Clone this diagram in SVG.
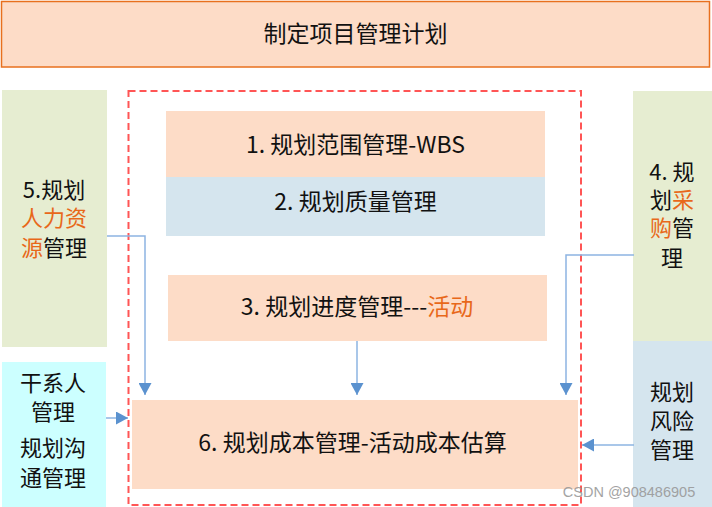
<svg xmlns="http://www.w3.org/2000/svg" width="712" height="507" viewBox="0 0 712 507">
<style>
text{font-family:"Noto Sans CJK SC","Noto Sans",sans-serif;fill:#111;text-anchor:middle}
.t{font-size:23px}
.s{font-size:22px}
.o{fill:#E8681A}
.peach{fill:#FDDCC7}
.blue{fill:#D5E5EE}
.green{fill:#E6EDD1}
.cyan{fill:#CCFFFF}
.con{fill:none;stroke:#8DB4E2;stroke-width:1.5}
</style>
<defs>
<marker id="ah" viewBox="0 0 12 13" refX="12" refY="6.5" markerWidth="12" markerHeight="13" markerUnits="userSpaceOnUse" orient="auto">
<path d="M0,0 L12,6.5 L0,13 z" fill="#5B92CF"/>
</marker>
</defs>
<rect width="712" height="507" fill="#fff"/>
<g id="title">
<rect x="1.5" y="1.5" width="708" height="65.5" fill="#FDDCC7" stroke="#E8701E" stroke-width="1.5"/>
<text class="t" x="355.5" y="42">制定项目管理计划</text>
</g>
<g id="frame">
<rect x="128.5" y="91" width="452.5" height="414" fill="none" stroke="#FF5555" stroke-width="2" stroke-dasharray="7 4"/>
</g>
<g id="n1">
<rect class="peach" x="166" y="111" width="379" height="66"/>
<text class="t" x="355.5" y="153">1. 规划范围管理-WBS</text>
</g>
<g id="n2">
<rect class="blue" x="166" y="177" width="379" height="59"/>
<text class="t" x="355.5" y="210">2. 规划质量管理</text>
</g>
<g id="n3">
<rect class="peach" x="168" y="275" width="379" height="66"/>
<text class="t" x="357" y="315">3. 规划进度管理---<tspan class="o">活动</tspan></text>
</g>
<g id="n6">
<rect class="peach" x="132" y="400" width="446" height="89"/>
<text class="t" x="352.5" y="451">6. 规划成本管理-活动成本估算</text>
</g>
<g id="n5">
<rect class="green" x="2" y="90" width="105" height="257"/>
<text class="s" x="54" y="198">5.规划</text>
<text class="s o" x="54" y="226">人力资</text>
<text class="s" x="54" y="256"><tspan class="o">源</tspan>管理</text>
</g>
<g id="stakeholder">
<rect class="cyan" x="2" y="362" width="104" height="145"/>
<text class="s" x="53" y="391">干系人</text>
<text class="s" x="53" y="420">管理</text>
<text class="s" x="53" y="456">规划沟</text>
<text class="s" x="53" y="486">通管理</text>
</g>
<g id="n4">
<rect class="green" x="633" y="91" width="79" height="250"/>
<text class="s" x="672" y="180">4. 规</text>
<text class="s" x="672" y="208">划<tspan class="o">采</tspan></text>
<text class="s" x="672" y="236"><tspan class="o">购</tspan>管</text>
<text class="s" x="672" y="266">理</text>
</g>
<g id="risk">
<rect class="blue" x="633" y="341" width="79" height="166"/>
<text class="s" x="672" y="400">规划</text>
<text class="s" x="672" y="429">风险</text>
<text class="s" x="672" y="458">管理</text>
</g>
<g id="connectors">
<polyline class="con" points="107,236 145,236 145,395" marker-end="url(#ah)"/>
<line class="con" x1="357" y1="341" x2="357" y2="395" marker-end="url(#ah)"/>
<polyline class="con" points="634,255 566,255 566,395" marker-end="url(#ah)"/>
<line class="con" x1="106" y1="418" x2="128" y2="418" marker-end="url(#ah)"/>
<line class="con" x1="634" y1="445" x2="582" y2="445" marker-end="url(#ah)"/>
</g>
<text x="629" y="497" style="font-family:'Liberation Sans',Arial,sans-serif;font-size:14.5px;fill:#9a9a9a;opacity:0.9">CSDN @908486905</text>
</svg>
